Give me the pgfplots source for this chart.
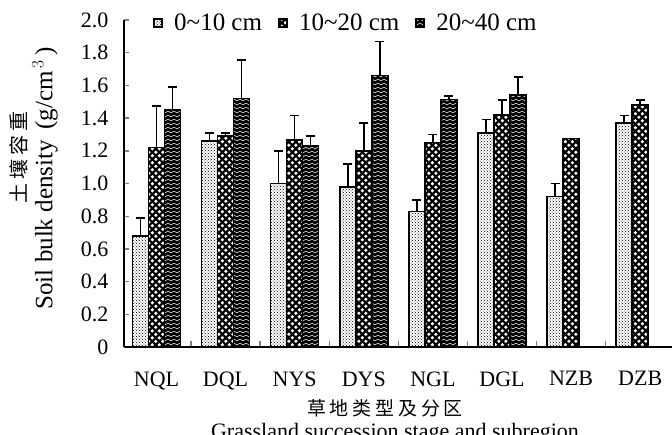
\documentclass[border=0pt]{standalone}
\usepackage{fontspec}
\setmainfont{Liberation Serif}
\newfontfamily\cjk[LetterSpace=20]{Noto Sans CJK SC}
\usepackage{pgfplots}
\pgfplotsset{compat=1.18}
\usetikzlibrary{patterns,calc}

\pgfdeclarepatternformonly{circs}{\pgfqpoint{-1pt}{-1pt}}{\pgfqpoint{8pt}{8pt}}{\pgfqpoint{7pt}{7pt}}{%
  \pgfpathcircle{\pgfqpoint{1.75pt}{1.75pt}}{1.75pt}%
  \pgfpathcircle{\pgfqpoint{5.25pt}{5.25pt}}{1.75pt}%
  \pgfusepath{fill}}
\pgfdeclarepatternformonly{vees}{\pgfqpoint{-0.5pt}{-0.5pt}}{\pgfqpoint{6.5pt}{4.5pt}}{\pgfqpoint{6pt}{4pt}}{%
  \pgfsetlinewidth{0.5pt}%
  \pgfpathmoveto{\pgfqpoint{0pt}{3pt}}%
  \pgfpathlineto{\pgfqpoint{3pt}{1pt}}%
  \pgfpathlineto{\pgfqpoint{6pt}{3pt}}%
  \pgfusepath{stroke}}

\pgfplotsset{myerr/.style={error bars/.cd, y dir=plus, y explicit,
  error bar style={line width=1.5pt, black},
  error mark options={rotate=90, line width=1.5pt, black, mark size=4.5pt}}}

\begin{document}
\begin{tikzpicture}
\begin{axis}[name=ax, scale only axis, width=548pt, height=327pt,
  ybar=0pt, bar width=16pt,
  xmin=-0.47, xmax=7.46, ymin=0, ymax=2,
  axis lines*=left, axis line style={line width=1.6pt},
  xtick={0,1,2,3,4,5,6,7},
  xticklabels={NQL,DQL,NYS,DYS,NGL,DGL,NZB,DZB},
  minor xtick={0.5,1.5,2.5,3.5,4.5,5.5,6.5},
  major x tick style={draw=none},
  minor x tick style={line width=1.4pt},
  minor tick length=6pt, major tick length=5pt, tick align=inside,
  ytick={0,0.2,0.4,0.6,0.8,1.0,1.2,1.4,1.6,1.8,2.0},
  yticklabels={0,0.2,0.4,0.6,0.8,1.0,1.2,1.4,1.6,1.8,2.0},
  major y tick style={line width=1.4pt},
  yticklabel style={font=\fontsize{22}{24}\selectfont, xshift=-12pt},
  xticklabel style={font=\fontsize{22}{26}\selectfont, yshift=-21pt},
  legend style={at={(0.053,0.99)}, anchor=west, draw=none, fill=none,
    font=\fontsize{25}{28}\selectfont, inner sep=0pt,
    /tikz/every odd column/.append style={column sep=9pt},
    /tikz/every even column/.append style={column sep=14pt}},
  legend columns=3,
  legend image code/.code={\draw[#1, line width=2pt] (0pt,-4pt) rectangle (8pt,4pt);},
]
\addplot[draw=black, line width=1.5pt, fill=white, postaction={pattern=crosshatch dots}, myerr]
  coordinates {(0,0.68) +- (0,0.11) (1,1.26) +- (0,0.05) (2,1.00) +- (0,0.20) (3,0.98) +- (0,0.14)
               (4,0.83) +- (0,0.07) (5,1.31) +- (0,0.08) (6,0.92) +- (0,0.08) (7,1.37) +- (0,0.045)};
\addplot[draw=black, line width=1.5pt, fill=black, postaction={pattern=circs, pattern color=white}, myerr]
  coordinates {(0,1.22) +- (0,0.255) (1,1.29) +- (0,0.02) (2,1.265) +- (0,0.15) (3,1.20) +- (0,0.17)
               (4,1.25) +- (0,0.05) (5,1.42) +- (0,0.09) (6,1.275) +- (0,0.0) (7,1.48) +- (0,0.03)};
\addplot[draw=black, line width=1.5pt, fill=black, postaction={pattern=vees, pattern color=white}, myerr]
  coordinates {(0,1.45) +- (0,0.14) (1,1.52) +- (0,0.235) (2,1.23) +- (0,0.06) (3,1.66) +- (0,0.21)
               (4,1.515) +- (0,0.02) (5,1.54) +- (0,0.11)};
\legend{0\textasciitilde10 cm, 10\textasciitilde20 cm, 20\textasciitilde40 cm}
\end{axis}
\node[rotate=90, font=\cjk\fontsize{20}{22}\selectfont] at ($(ax.west)+(-105pt,26pt)$) {土壤容重};
\node[rotate=90, font=\fontsize{25}{28}\selectfont] at ($(ax.west)+(-79pt,5pt)$) {Soil bulk density\, (g/cm$^{\,3}$\,)};
\node[font=\cjk\fontsize{19}{21}\selectfont] at ($(ax.south west)+(261pt,-61pt)$) {草地类型及分区};
\node[anchor=base, font=\fontsize{22}{26}\selectfont] at ($(ax.south west)+(271pt,-91pt)$) {Grassland succession stage and subregion};
\pgfresetboundingbox
\path[use as bounding box] ($(ax.south west)+(-124pt,-87pt)$) rectangle ($(ax.north east)+(0pt,20pt)$);
\end{tikzpicture}
\end{document}
